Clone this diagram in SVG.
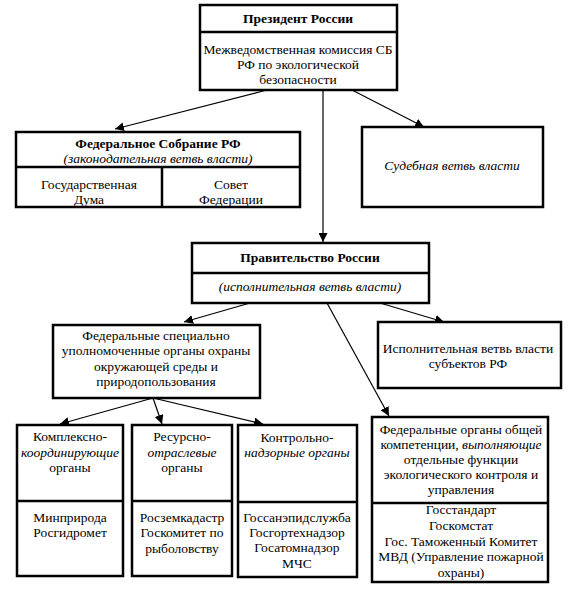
<svg xmlns="http://www.w3.org/2000/svg" width="570" height="591" viewBox="0 0 570 591" font-family="'Liberation Serif', 'DejaVu Serif', 'Times New Roman', serif">
<style>
.b{fill:#fff;stroke:#000;stroke-width:2.5}
.d{stroke:#000;stroke-width:2.5;fill:none}
.c{stroke:#000;stroke-width:1.2;fill:none;marker-end:url(#ah)}
text{font-family:'Liberation Serif','DejaVu Serif','Times New Roman',serif;font-size:13.5px;fill:#000;text-anchor:middle}
.t{font-weight:bold}
.i{font-style:italic}
</style>
<defs>
<marker id="ah" viewBox="0 0 10 10" refX="10" refY="5" markerWidth="9" markerHeight="9" markerUnits="userSpaceOnUse" orient="auto">
<path d="M0,0 L10,5 L0,10 z" fill="#000"/>
</marker>
</defs>
<rect width="570" height="591" fill="#fff"/>
<g id="connectors">
<line class="c" x1="267" y1="90" x2="115" y2="129"/>
<line class="c" x1="323" y1="90" x2="323" y2="242"/>
<line class="c" x1="352" y1="90" x2="424" y2="127"/>
<line class="c" x1="250" y1="303" x2="184" y2="322"/>
<line class="c" x1="380" y1="303" x2="444" y2="322"/>
<line class="c" x1="327" y1="303" x2="389" y2="416"/>
<line class="c" x1="153" y1="398" x2="60" y2="424"/>
<line class="c" x1="153" y1="398" x2="162" y2="424"/>
<line class="c" x1="153" y1="398" x2="263" y2="424"/>
</g>
<g id="president">
<rect class="b" x="200" y="5" width="197" height="85"/>
<line class="d" x1="200" y1="32" x2="397" y2="32"/>
<text class="t" x="298" y="23">Президент России</text>
<text x="298" y="54">Межведомственная комиссия СБ</text>
<text x="298" y="69">РФ по экологической</text>
<text x="298" y="84">безопасности</text>
</g>
<g id="federal-assembly">
<rect class="b" x="16" y="132" width="284" height="75"/>
<line class="d" x1="16" y1="167" x2="300" y2="167"/>
<line class="d" x1="162" y1="167" x2="162" y2="207"/>
<text class="t" x="158" y="148">Федеральное Собрание РФ</text>
<text class="i" x="158" y="163">(законодательная ветвь власти)</text>
<text x="89" y="189">Государственная</text>
<text x="89" y="204">Дума</text>
<text x="231" y="189">Совет</text>
<text x="231" y="204">Федерации</text>
</g>
<g id="judicial">
<rect class="b" x="362" y="127" width="181" height="80"/>
<text class="i" x="452" y="170">Судебная ветвь власти</text>
</g>
<g id="government">
<rect class="b" x="192" y="243" width="237" height="60"/>
<line class="d" x1="192" y1="273" x2="429" y2="273"/>
<text class="t" x="310" y="262">Правительство России</text>
<text class="i" x="310" y="291">(исполнительная ветвь власти)</text>
</g>
<g id="federal-special">
<rect class="b" x="53" y="325" width="207" height="73"/>
<text x="156" y="340">Федеральные специально</text>
<text x="156" y="355">уполномоченные органы охраны</text>
<text x="156" y="371">окружающей среды и</text>
<text x="156" y="386">природопользования</text>
</g>
<g id="regional">
<rect class="b" x="378" y="322" width="183" height="66"/>
<text x="468" y="353">Исполнительная ветвь власти</text>
<text x="468" y="368">субъектов РФ</text>
</g>
<g id="complex">
<rect class="b" x="17" y="425" width="106" height="151"/>
<line class="d" x1="17" y1="501" x2="123" y2="501"/>
<text x="70" y="441">Комплексно-</text>
<text class="i" x="70" y="457">координирующие</text>
<text x="70" y="472">органы</text>
<text x="70" y="522">Минприрода</text>
<text x="70" y="537">Росгидромет</text>
</g>
<g id="resource">
<rect class="b" x="132" y="425" width="100" height="151"/>
<line class="d" x1="132" y1="501" x2="232" y2="501"/>
<text x="182" y="441">Ресурсно-</text>
<text class="i" x="182" y="457">отраслевые</text>
<text x="182" y="472">органы</text>
<text x="182" y="522">Росземкадастр</text>
<text x="182" y="537">Госкомитет по</text>
<text x="182" y="553">рыболовству</text>
</g>
<g id="control">
<rect class="b" x="238" y="425" width="119" height="152"/>
<line class="d" x1="238" y1="502" x2="357" y2="502"/>
<text x="297" y="442">Контрольно-</text>
<text class="i" x="297" y="457">надзорные органы</text>
<text x="297" y="522">Госсанэпидслужба</text>
<text x="297" y="537">Госгортехнадзор</text>
<text x="297" y="552">Госатомнадзор</text>
<text x="297" y="568">МЧС</text>
</g>
<g id="federal-general">
<rect class="b" x="372" y="417" width="176" height="165"/>
<line class="d" x1="372" y1="503" x2="548" y2="503"/>
<text x="461" y="434">Федеральные органы общей</text>
<text x="461" y="449">компетенции, <tspan class="i">выполняющие</tspan></text>
<text x="461" y="464">отдельные функции</text>
<text x="461" y="479">экологического контроля и</text>
<text x="461" y="494">управления</text>
<text x="461" y="514">Госстандарт</text>
<text x="461" y="530">Госкомстат</text>
<text x="461" y="546">Гос. Таможенный Комитет</text>
<text x="461" y="561">МВД (Управление пожарной</text>
<text x="461" y="577">охраны)</text>
</g>
</svg>
